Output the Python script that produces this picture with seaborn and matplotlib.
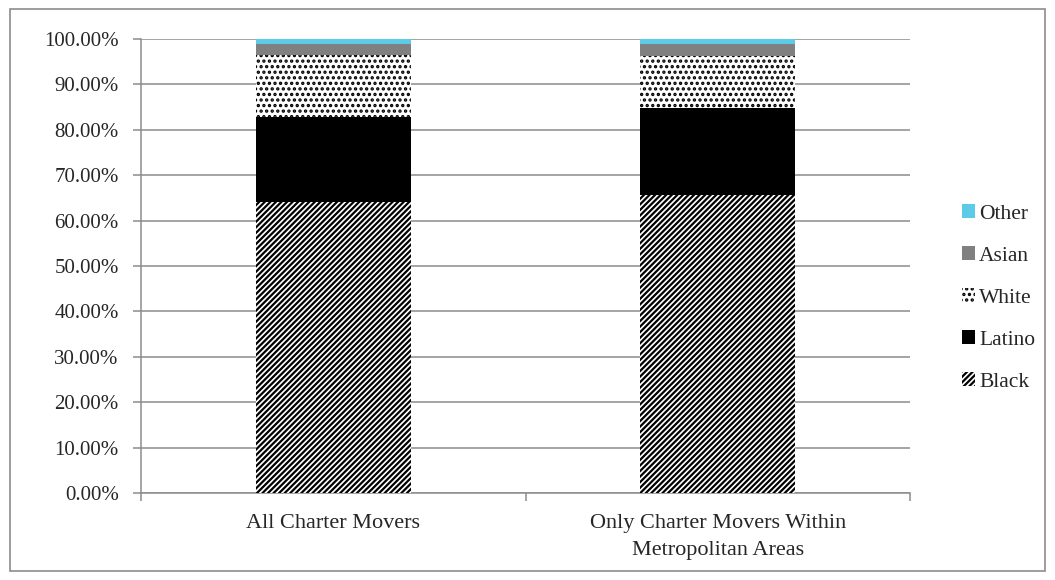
import matplotlib
matplotlib.use("Agg")
import matplotlib.pyplot as plt
import numpy as np
import pandas as pd
import seaborn as sns
from matplotlib.patches import Rectangle

# values (percent of movers)
groups = ["All Charter Movers", "Only Charter Movers Within\nMetropolitan Areas"]
races = ["Black", "Latino", "White", "Asian", "Other"]
black = [64.1, 65.6]
latino = [18.8, 19.3]
white = [13.6, 11.4]
asian = [2.5, 2.7]
other = [1.0, 1.0]

styles = {
    "Black": dict(color="white", hatch="//////", edgecolor="black"),
    "Latino": dict(color="black", hatch=None, edgecolor="black"),
    "White": dict(color="white", hatch="...", edgecolor="black"),
    "Asian": dict(color="#808080", hatch=None, edgecolor="#808080"),
    "Other": dict(color="#5ccbe8", hatch=None, edgecolor="#5ccbe8"),
}

df = pd.DataFrame({
    "group": np.repeat(groups, len(races)),
    "race": races * len(groups),
    "value": [v for i in range(len(groups))
              for v in (black[i], latino[i], white[i], asian[i], other[i])],
})
df["race"] = pd.Categorical(df["race"], categories=races, ordered=True)
df = df.sort_values(["group", "race"])
df["top"] = df.groupby("group")["value"].cumsum()

sns.set_style("white")
plt.rcParams["font.family"] = ["Liberation Serif", "DejaVu Serif"]
plt.rcParams["hatch.linewidth"] = 1.6

fig = plt.figure(figsize=(10.55, 5.8), dpi=100)
ax = fig.add_axes([141 / 1055, 1 - 493 / 580, (910 - 141) / 1055, (493 - 39) / 580])

# stacked bars: draw cumulative tops from the highest layer downwards
for race in races[::-1]:
    sub = df[df["race"] == race]
    st = styles[race]
    sns.barplot(data=sub, x="group", y="top", order=groups, ax=ax,
                color=st["color"], saturation=1, width=0.403,
                hatch=st["hatch"], edgecolor=st["edgecolor"], linewidth=0,
                label=race, zorder=3)
if ax.get_legend() is not None:
    ax.get_legend().remove()

gray = "#8c8c8c"
ax.set_ylim(0, 100)
ax.set_xlim(-0.5, 1.5)
ax.set_yticks(np.arange(0, 101, 10))
ax.set_yticklabels([f"{v:.2f}%" for v in np.arange(0, 101, 10)])
ax.yaxis.grid(True, color=gray, linewidth=1.1, zorder=0)
ax.set_axisbelow(True)
ax.set_xlabel("")
ax.set_ylabel("")
for s in ["top", "right"]:
    ax.spines[s].set_visible(False)
for s in ["left", "bottom"]:
    ax.spines[s].set_color(gray)
    ax.spines[s].set_linewidth(1.1)
ax.tick_params(axis="y", which="major", direction="out", length=6, width=1.1,
               color=gray, labelsize=15, pad=10, left=True)
ax.set_xticks([-0.5, 0.5, 1.5], minor=True)
ax.tick_params(axis="x", which="minor", direction="out", length=6, width=1.1,
               color=gray, bottom=True)
ax.tick_params(axis="x", which="major", length=0, labelsize=16, pad=15)
for lab in ax.get_xticklabels():
    lab.set_ha("center")
    lab.set_linespacing(1.6)

handles, labels = ax.get_legend_handles_labels()
leg = fig.legend(handles, labels, loc="center left",
                 bbox_to_anchor=(951 / 1055, 1 - 298 / 580),
                 frameon=False, fontsize=15.5, handlelength=0.6,
                 handleheight=0.6, handletextpad=0.2, labelspacing=1.05,
                 borderpad=0)

# outer chart border
fig.patches.append(Rectangle((10 / 1055, 9 / 580), 1035 / 1055, 562 / 580,
                             transform=fig.transFigure, fill=False,
                             edgecolor=gray, linewidth=1.2))

fig.savefig("out.png", dpi=100)
